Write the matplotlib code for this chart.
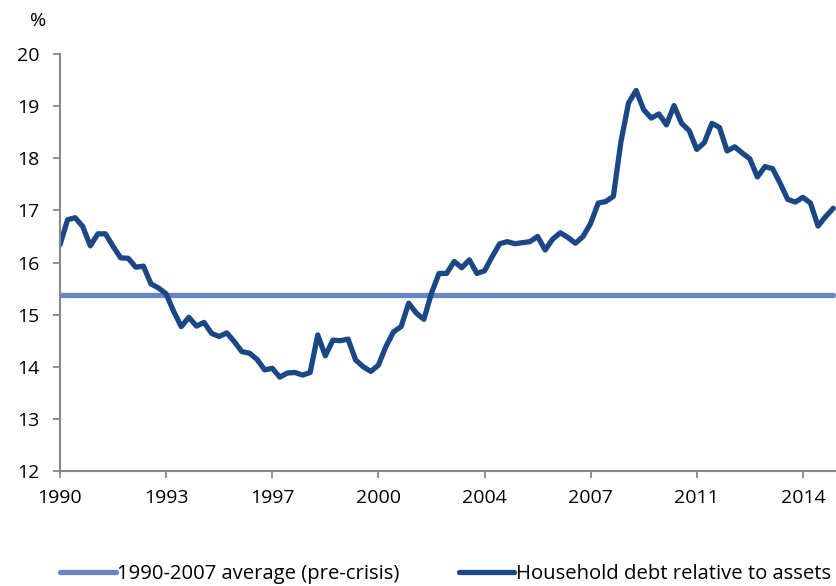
import matplotlib
matplotlib.use("Agg")
import matplotlib.pyplot as plt

plt.rcParams['font.family'] = ['Open Sans', 'DejaVu Sans']

tick_labels = ["1990", "1993", "1997", "2000", "2004", "2007", "2011", "2014"]
tick_positions = [0, 14, 28, 42, 56, 70, 84, 98]

debt_to_assets = [
    16.34, 16.82, 16.86, 16.69, 16.32, 16.55, 16.55, 16.31, 16.09, 16.08,
    15.91, 15.93, 15.59, 15.51, 15.40, 15.06, 14.77, 14.95, 14.78, 14.85,
    14.64, 14.58, 14.65, 14.48, 14.29, 14.26, 14.14, 13.94, 13.97, 13.80,
    13.88, 13.89, 13.84, 13.89, 14.61, 14.21, 14.51, 14.50, 14.53, 14.13,
    14.00, 13.91, 14.03, 14.39, 14.67, 14.77, 15.22, 15.03, 14.91, 15.41,
    15.79, 15.79, 16.02, 15.90, 16.05, 15.79, 15.84, 16.11, 16.36, 16.40,
    16.36, 16.38, 16.40, 16.50, 16.24, 16.45, 16.57, 16.48, 16.37, 16.50,
    16.75, 17.14, 17.17, 17.27, 18.32, 19.06, 19.30, 18.93, 18.77, 18.85,
    18.64, 19.01, 18.67, 18.53, 18.17, 18.30, 18.67, 18.59, 18.14, 18.22,
    18.10, 17.99, 17.64, 17.84, 17.80, 17.52, 17.21, 17.16, 17.25, 17.14,
    16.70, 16.88, 17.04,
]
precrisis_average = 15.37

x = list(range(len(debt_to_assets)))
avg = [precrisis_average] * len(debt_to_assets)

W, H = 837, 586
fig = plt.figure(figsize=(W / 100, H / 100), dpi=100)
ax = fig.add_axes([60 / W, (H - 471) / H, (W - 60) / W, (471 - 54) / H])

light = "#6a85c5"
dark = "#1c4785"
l1, = ax.plot(x, avg, color=light, lw=3.8, solid_capstyle='round',
              label="1990-2007 average (pre-crisis)")
l2, = ax.plot(x, debt_to_assets, color=dark, lw=3.8, solid_capstyle='round',
              solid_joinstyle='round', label="Household debt relative to assets")

ax.set_xlim(0, 102.5)
ax.set_ylim(12, 20)
ax.set_yticks(range(12, 21))
ax.set_xticks(tick_positions)
ax.set_xticklabels(tick_labels)

for s in ['top', 'right']:
    ax.spines[s].set_visible(False)
for s in ['left', 'bottom']:
    ax.spines[s].set_color('#888888')
    ax.spines[s].set_linewidth(1.5)

ax.tick_params(axis='y', length=5, width=1.3, color='#888888', pad=10, labelsize=14)
ax.tick_params(axis='x', length=5, width=1.3, color='#888888', pad=8, labelsize=14)

fig.text(38 / W, 1 - 21 / H, "%", ha='center', va='center', fontsize=14)

fig.legend(handles=[l1, l2], loc='center left', bbox_to_anchor=(60 / W, 1 - 574 / H),
           ncol=2, frameon=False, fontsize=14.6, handlelength=2.75, handletextpad=0.08,
           columnspacing=2.9, borderaxespad=0, borderpad=0)

fig.savefig("out.png", dpi=100)
